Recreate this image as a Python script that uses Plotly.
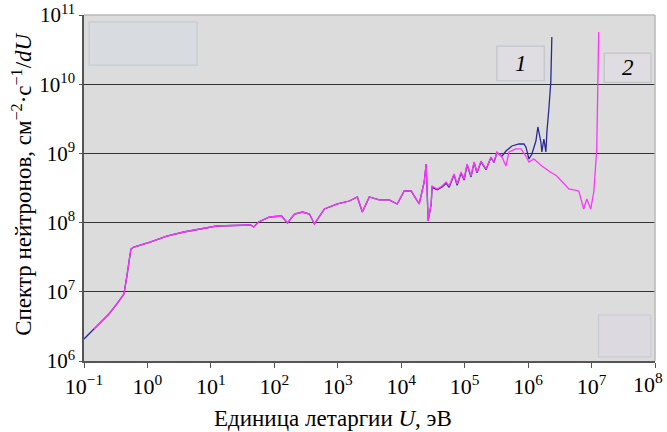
import plotly.graph_objects as go

# Lethargy energy grid (log10 of U, eV) and neutron spectrum (log10 of flux)
# Curve 2 (magenta)
log_u_2 = [-0.843, -0.607, -0.481, -0.371, -0.324, -0.277, -0.261, -0.214, 0.053, 0.305,
           0.572, 1.091, 1.626, 1.673, 1.752, 1.925, 2.113, 2.208, 2.318, 2.443,
           2.553, 2.632, 2.789, 2.994, 3.182, 3.308, 3.387, 3.497, 3.654, 3.811,
           3.937, 4.047, 4.157, 4.283, 4.362, 4.393, 4.425, 4.472, 4.487, 4.566,
           4.645, 4.708, 4.755, 4.833, 4.881, 4.943, 4.991, 5.038, 5.101, 5.148,
           5.195, 5.258, 5.336, 5.415, 5.462, 5.509, 5.588, 5.651, 5.698, 5.808,
           5.887, 5.965, 6.013, 6.091, 6.217, 6.327, 6.453, 6.642, 6.799, 6.877,
           6.925, 6.987, 7.035, 7.082, 7.113]
log_flux_2 = [6.462, 6.679, 6.824, 6.968, 7.228, 7.575, 7.618, 7.647, 7.720, 7.806,
              7.864, 7.951, 7.965, 7.936, 8.009, 8.081, 8.095, 7.994, 8.124, 8.153,
              8.124, 7.980, 8.197, 8.269, 8.312, 8.370, 8.153, 8.370, 8.327, 8.327,
              8.269, 8.457, 8.457, 8.269, 8.587, 8.847, 8.023, 8.269, 8.529, 8.486,
              8.529, 8.587, 8.529, 8.702, 8.558, 8.731, 8.630, 8.847, 8.673, 8.876,
              8.731, 8.890, 8.775, 8.948, 8.876, 9.020, 8.948, 8.818, 9.020, 9.064,
              9.064, 8.962, 8.876, 8.919, 8.818, 8.746, 8.673, 8.486, 8.457, 8.197,
              8.341, 8.197, 8.442, 9.064, 10.754]

# Curve 1 (blue)
log_u_1 = [-1.000, -0.843, -0.607, -0.481, -0.371, -0.324, -0.277, -0.261, -0.214, 0.053,
           0.305, 0.572, 1.091, 1.626, 1.673, 1.752, 1.925, 2.113, 2.208, 2.318,
           2.443, 2.553, 2.632, 2.789, 2.994, 3.182, 3.308, 3.387, 3.497, 3.654,
           3.811, 3.937, 4.047, 4.157, 4.283, 4.362, 4.393, 4.425, 4.472, 4.487,
           4.566, 4.645, 4.708, 4.755, 4.833, 4.881, 4.943, 4.991, 5.038, 5.101,
           5.148, 5.195, 5.258, 5.336, 5.415, 5.462, 5.509, 5.588, 5.651, 5.745,
           5.855, 5.934, 5.965, 6.013, 6.060, 6.123, 6.154, 6.201, 6.217, 6.248,
           6.280, 6.296, 6.327, 6.358, 6.374]
log_flux_1 = [6.318, 6.462, 6.679, 6.824, 6.968, 7.228, 7.575, 7.618, 7.647, 7.720,
              7.806, 7.864, 7.951, 7.965, 7.936, 8.009, 8.081, 8.095, 7.994, 8.124,
              8.153, 8.124, 7.980, 8.197, 8.269, 8.312, 8.370, 8.153, 8.370, 8.327,
              8.327, 8.269, 8.457, 8.457, 8.269, 8.587, 8.847, 8.023, 8.269, 8.510,
              8.475, 8.515, 8.570, 8.510, 8.690, 8.540, 8.715, 8.615, 8.835, 8.660,
              8.865, 8.720, 8.880, 8.765, 8.940, 8.868, 9.010, 8.960, 9.035, 9.107,
              9.136, 9.136, 9.093, 8.919, 8.991, 9.179, 9.382, 9.165, 9.020, 9.208,
              9.020, 9.309, 9.642, 10.032, 10.682]

# Decade tick labels
x_tick_exp = [-1, 0, 1, 2, 3, 4, 5, 6, 7, 8]
y_tick_exp = [6, 7, 8, 9, 10, 11]

x_title = "Единица летаргии <i>U</i>, эВ"
y_title = "Спектр нейтронов, см<sup>\u22122</sup>\u00b7с<sup>\u22121</sup>/<i>dU</i>"


def power_label(e):
    s = str(e).replace("-", "\u2212")
    return f"10<sup>{s}</sup>"


u1 = [10 ** v for v in log_u_1]
f1 = [10 ** v for v in log_flux_1]
u2 = [10 ** v for v in log_u_2]
f2 = [10 ** v for v in log_flux_2]

# The last x label sits at the right edge; it is drawn right-aligned separately
x_ticktext = [power_label(e) for e in x_tick_exp[:-1]] + [""]

fig = go.Figure()
fig.add_trace(go.Scatter(x=u1, y=f1, mode="lines",
                         line=dict(color="#2a2a96", width=1.3), name="1"))
fig.add_trace(go.Scatter(x=u2, y=f2, mode="lines",
                         line=dict(color="#ff33ff", width=1.3), name="2"))

serif = "Liberation Serif"

fig.update_layout(
    width=667, height=432,
    margin=dict(l=84, r=12, t=15, b=71),
    paper_bgcolor="white",
    plot_bgcolor="#dcdcdc",
    showlegend=False,
    font=dict(family=serif, size=20, color="black"),
    xaxis=dict(
        type="log", range=[-1, 8], automargin=False,
        tickvals=[10 ** e for e in x_tick_exp],
        ticktext=x_ticktext,
        ticklabeloverflow="allow",
        showgrid=False, zeroline=False,
        showline=True, linecolor="#555555", linewidth=1.5,
        ticks="outside", ticklen=5, tickcolor="#555555",
        tickfont=dict(family=serif, size=22),
    ),
    yaxis=dict(
        type="log", range=[6, 11], automargin=False,
        tickvals=[10 ** e for e in y_tick_exp],
        ticktext=[power_label(e) for e in y_tick_exp],
        ticklabeloverflow="allow",
        showgrid=True, gridcolor="#333333", gridwidth=1.4,
        zeroline=False,
        showline=True, linecolor="#555555", linewidth=1.5,
        ticks="outside", ticklen=3, tickcolor="#555555",
        tickfont=dict(family=serif, size=21),
    ),
)

fig.add_annotation(xref="paper", yref="paper", x=1.0175, y=-0.018,
                   text=power_label(x_tick_exp[-1]),
                   xanchor="right", yanchor="top", showarrow=False,
                   font=dict(family=serif, size=22, color="black"))

# Axis titles
fig.add_annotation(xref="paper", yref="paper", x=0.436, y=-0.165, text=x_title,
                   xanchor="center", yanchor="middle", showarrow=False,
                   font=dict(family=serif, size=23, color="black"))
fig.add_annotation(xref="paper", yref="paper", x=-0.108, y=0.51, text=y_title,
                   textangle=-90, xanchor="center", yanchor="middle", showarrow=False,
                   font=dict(family=serif, size=23, color="black"))

# Light frame along the top and right of the plot area
fig.add_shape(type="line", xref="paper", yref="paper", x0=0, x1=1, y0=1, y1=1,
              line=dict(color="#b8b8b8", width=1.5), layer="above")
fig.add_shape(type="line", xref="paper", yref="paper", x0=1, x1=1, y0=0, y1=1,
              line=dict(color="#b8b8b8", width=1.5), layer="above")

# Boxes
fig.add_shape(type="rect", xref="paper", yref="paper", x0=0.009, x1=0.198, y0=0.855, y1=0.98,
              fillcolor="#d8dce1", line=dict(color="#c6ccd1", width=1.2), layer="below")
fig.add_shape(type="rect", xref="paper", yref="paper", x0=0.901, x1=0.993, y0=0.012, y1=0.133,
              fillcolor="#dcd9e0", line=dict(color="#c6ccd1", width=1.2), layer="below")
fig.add_shape(type="rect", xref="paper", yref="paper", x0=0.723, x1=0.806, y0=0.81, y1=0.91,
              fillcolor="#dfdce2", line=dict(color="#c0c5ca", width=1.2), layer="below")
fig.add_shape(type="rect", xref="paper", yref="paper", x0=0.911, x1=0.993, y0=0.805, y1=0.89,
              fillcolor="#dfdce2", line=dict(color="#c0c5ca", width=1.2), layer="below")

fig.add_annotation(xref="paper", yref="paper", x=0.7645, y=0.86, text="<i>1</i>",
                   xanchor="center", yanchor="middle",
                   showarrow=False, font=dict(family=serif, size=23, color="black"))
fig.add_annotation(xref="paper", yref="paper", x=0.952, y=0.847, text="<i>2</i>",
                   xanchor="center", yanchor="middle",
                   showarrow=False, font=dict(family=serif, size=23, color="black"))

fig.write_html("out.html")
